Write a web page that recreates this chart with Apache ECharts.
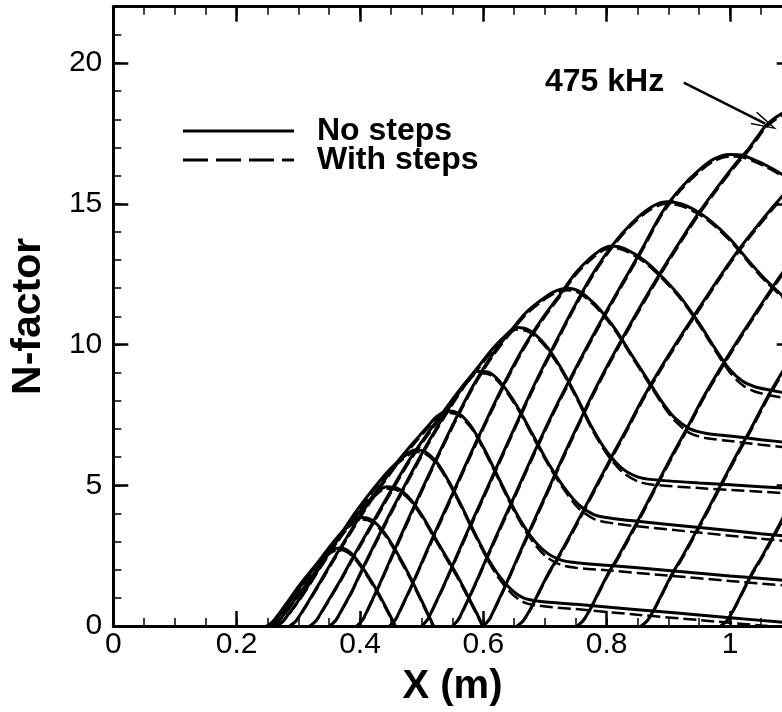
<!DOCTYPE html>
<html>
<head>
<meta charset="utf-8">
<script src="https://cdn.jsdelivr.net/npm/echarts@6/dist/echarts.min.js"></script>
<style>
  html, body { margin: 0; padding: 0; overflow: hidden; background: #fff; }
  #chart { width: 800px; height: 712px; }
</style>
</head>
<body>
<div id="chart"></div>
<script>
// N-factor growth curves, one per frequency. x in metres, N dimensionless.
// "noSteps" = smooth surface, "withSteps" = surface with steps.
const c01_x = [0.249, 0.259, 0.269, 0.284, 0.3, 0.32, 0.34, 0.355, 0.368, 0.385, 0.405, 0.425, 0.44, 0.454, 0.47];
const c01_noSteps = [0, 0.17, 0.45, 0.9, 1.4, 1.95, 2.45, 2.7, 2.77, 2.6, 2.05, 1.35, 0.75, 0.15, -0.6];
const c01_withSteps = [0, 0.15, 0.42, 0.86, 1.35, 1.89, 2.38, 2.63, 2.7, 2.53, 1.99, 1.29, 0.7, 0.1, -0.65];

const c02_x = [0.252, 0.262, 0.272, 0.287, 0.305, 0.325, 0.345, 0.365, 0.385, 0.403, 0.42, 0.44, 0.46, 0.48, 0.5, 0.514, 0.53];
const c02_noSteps = [0, 0.17, 0.45, 0.9, 1.45, 2.05, 2.65, 3.2, 3.65, 3.85, 3.75, 3.3, 2.6, 1.8, 0.9, 0.25, -0.5];
const c02_withSteps = [0, 0.15, 0.42, 0.86, 1.4, 1.99, 2.58, 3.13, 3.58, 3.78, 3.68, 3.24, 2.54, 1.74, 0.85, 0.2, -0.55];

const c03_x = [0.258, 0.268, 0.278, 0.293, 0.31, 0.33, 0.355, 0.38, 0.405, 0.425, 0.443, 0.46, 0.48, 0.5, 0.52, 0.54, 0.56, 0.58, 0.595, 0.61];
const c03_noSteps = [0, 0.17, 0.45, 0.9, 1.4, 2.0, 2.8, 3.55, 4.2, 4.7, 4.95, 4.9, 4.55, 3.95, 3.2, 2.45, 1.7, 0.85, 0.2, -0.5];
const c03_withSteps = [0, 0.15, 0.42, 0.86, 1.35, 1.94, 2.73, 3.48, 4.13, 4.63, 4.88, 4.83, 4.49, 3.89, 3.14, 2.39, 1.64, 0.8, 0.15, -0.55];

const c04_x = [0.265, 0.275, 0.285, 0.3, 0.315, 0.335, 0.36, 0.385, 0.41, 0.43, 0.45, 0.47, 0.489, 0.505, 0.525, 0.545, 0.565, 0.585, 0.605, 0.625, 0.645, 0.665, 0.69, 0.75, 0.85, 0.95, 1.05, 1.1];
const c04_noSteps = [0, 0.17, 0.45, 0.9, 1.4, 2.1, 2.95, 3.8, 4.55, 5.1, 5.6, 6.0, 6.25, 6.2, 5.8, 5.1, 4.25, 3.35, 2.5, 1.8, 1.3, 1.0, 0.88, 0.77, 0.58, 0.39, 0.2, 0.11];
const c04_withSteps = [0, 0.15, 0.42, 0.86, 1.35, 2.04, 2.88, 3.73, 4.48, 5.03, 5.53, 5.93, 6.18, 6.13, 5.74, 5.04, 4.19, 3.29, 2.43, 1.7, 1.17, 0.85, 0.72, 0.6, 0.4, 0.21, 0.02, -0.07];

const c05_x = [0.286, 0.296, 0.306, 0.32, 0.335, 0.355, 0.38, 0.41, 0.44, 0.465, 0.49, 0.51, 0.525, 0.541, 0.56, 0.58, 0.6, 0.625, 0.65, 0.675, 0.7, 0.725, 0.75, 0.8, 0.9, 1.0, 1.1];
const c05_noSteps = [0, 0.18, 0.5, 1.0, 1.55, 2.3, 3.2, 4.25, 5.2, 5.95, 6.6, 7.1, 7.45, 7.65, 7.55, 7.1, 6.35, 5.25, 4.15, 3.25, 2.65, 2.35, 2.25, 2.16, 1.97, 1.78, 1.6];
const c05_withSteps = [0, 0.16, 0.47, 0.96, 1.5, 2.24, 3.13, 4.18, 5.13, 5.88, 6.53, 7.03, 7.38, 7.58, 7.48, 7.04, 6.29, 5.19, 4.08, 3.15, 2.5, 2.18, 2.07, 1.98, 1.79, 1.6, 1.42];

const c06_x = [0.319, 0.329, 0.339, 0.354, 0.37, 0.39, 0.42, 0.45, 0.48, 0.51, 0.535, 0.555, 0.575, 0.591, 0.61, 0.63, 0.655, 0.68, 0.705, 0.73, 0.755, 0.78, 0.81, 0.85, 0.95, 1.05, 1.1];
const c06_noSteps = [0, 0.2, 0.55, 1.1, 1.7, 2.5, 3.65, 4.8, 5.9, 6.85, 7.6, 8.2, 8.75, 9.05, 9.0, 8.6, 7.8, 6.8, 5.8, 4.95, 4.3, 3.95, 3.82, 3.72, 3.5, 3.28, 3.18];
const c06_withSteps = [0, 0.18, 0.52, 1.06, 1.65, 2.44, 3.58, 4.73, 5.83, 6.78, 7.53, 8.13, 8.68, 8.98, 8.93, 8.54, 7.74, 6.74, 5.74, 4.87, 4.17, 3.8, 3.65, 3.54, 3.32, 3.1, 3.0];

const c07_x = [0.351, 0.361, 0.371, 0.386, 0.4, 0.42, 0.45, 0.48, 0.51, 0.54, 0.57, 0.595, 0.615, 0.635, 0.654, 0.675, 0.7, 0.725, 0.75, 0.775, 0.8, 0.825, 0.85, 0.875, 0.95, 1.05, 1.1];
const c07_noSteps = [0, 0.22, 0.6, 1.2, 1.85, 2.75, 4.05, 5.3, 6.5, 7.6, 8.6, 9.3, 9.85, 10.3, 10.6, 10.5, 10.0, 9.2, 8.2, 7.1, 6.2, 5.6, 5.3, 5.2, 5.08, 4.95, 4.88];
const c07_withSteps = [0, 0.2, 0.57, 1.16, 1.8, 2.69, 3.98, 5.23, 6.43, 7.53, 8.53, 9.23, 9.78, 10.23, 10.53, 10.43, 9.94, 9.14, 8.14, 7.04, 6.12, 5.48, 5.14, 5.02, 4.9, 4.77, 4.7];

const c08_x = [0.395, 0.405, 0.415, 0.43, 0.445, 0.465, 0.495, 0.525, 0.555, 0.585, 0.615, 0.645, 0.67, 0.695, 0.715, 0.735, 0.755, 0.78, 0.8, 0.817, 0.84, 0.865, 0.89, 0.91, 0.935, 0.96, 1.0, 1.05, 1.1];
const c08_noSteps = [0, 0.25, 0.7, 1.4, 2.15, 3.15, 4.6, 6.0, 7.35, 8.6, 9.65, 10.5, 11.15, 11.6, 11.88, 12.0, 11.9, 11.45, 10.95, 10.45, 9.65, 8.8, 7.95, 7.4, 7.0, 6.85, 6.75, 6.62, 6.5];
const c08_withSteps = [0, 0.23, 0.67, 1.36, 2.1, 3.08, 4.53, 5.93, 7.28, 8.53, 9.58, 10.43, 11.08, 11.53, 11.81, 11.93, 11.83, 11.39, 10.89, 10.39, 9.59, 8.74, 7.88, 7.3, 6.85, 6.68, 6.57, 6.44, 6.32];

const c09_x = [0.448, 0.458, 0.468, 0.483, 0.498, 0.518, 0.548, 0.578, 0.608, 0.638, 0.668, 0.698, 0.725, 0.75, 0.775, 0.795, 0.81, 0.83, 0.86, 0.89, 0.919, 0.95, 0.979, 1.0, 1.02, 1.04, 1.06, 1.084, 1.1];
const c09_noSteps = [0, 0.25, 0.7, 1.4, 2.15, 3.15, 4.6, 6.05, 7.45, 8.8, 10.0, 11.0, 11.8, 12.55, 13.1, 13.42, 13.5, 13.4, 13.0, 12.4, 11.7, 10.75, 9.75, 9.1, 8.7, 8.5, 8.4, 8.3, 8.25];
const c09_withSteps = [0, 0.23, 0.67, 1.36, 2.1, 3.08, 4.53, 5.98, 7.38, 8.73, 9.93, 10.93, 11.73, 12.48, 13.03, 13.35, 13.43, 13.33, 12.94, 12.34, 11.64, 10.69, 9.68, 9.0, 8.56, 8.33, 8.22, 8.12, 8.07];

const c10_x = [0.5, 0.51, 0.52, 0.535, 0.55, 0.57, 0.6, 0.63, 0.66, 0.69, 0.72, 0.75, 0.78, 0.81, 0.84, 0.87, 0.897, 0.92, 0.945, 0.968, 1.0, 1.033, 1.06, 1.084, 1.1];
const c10_noSteps = [0, 0.25, 0.7, 1.4, 2.15, 3.15, 4.6, 6.05, 7.5, 8.9, 10.2, 11.45, 12.6, 13.55, 14.3, 14.85, 15.07, 15.0, 14.75, 14.4, 13.75, 12.9, 12.25, 11.75, 11.35];
const c10_withSteps = [0, 0.23, 0.67, 1.36, 2.1, 3.08, 4.53, 5.98, 7.43, 8.83, 10.13, 11.38, 12.53, 13.48, 14.23, 14.78, 15.0, 14.93, 14.68, 14.34, 13.69, 12.84, 12.19, 11.69, 11.29];

const c11_x = [0.55, 0.56, 0.57, 0.585, 0.6, 0.62, 0.65, 0.68, 0.71, 0.74, 0.77, 0.8, 0.83, 0.86, 0.89, 0.92, 0.95, 0.975, 1.0, 1.02, 1.04, 1.06, 1.084, 1.1];
const c11_noSteps = [0, 0.25, 0.7, 1.4, 2.15, 3.15, 4.6, 6.05, 7.45, 8.75, 10.0, 11.2, 12.35, 13.5, 14.7, 15.55, 16.2, 16.6, 16.75, 16.72, 16.55, 16.35, 16.05, 15.8];
const c11_withSteps = [0, 0.23, 0.67, 1.36, 2.1, 3.08, 4.53, 5.98, 7.38, 8.68, 9.93, 11.13, 12.28, 13.43, 14.63, 15.48, 16.13, 16.53, 16.68, 16.65, 16.49, 16.29, 15.99, 15.74];

// 475 kHz
const c12_x = [0.6, 0.61, 0.62, 0.635, 0.65, 0.67, 0.7, 0.73, 0.76, 0.773, 0.8, 0.83, 0.86, 0.89, 0.92, 0.95, 0.98, 1.01, 1.03, 1.045, 1.057, 1.07, 1.084, 1.1];
const c12_noSteps = [0, 0.25, 0.7, 1.4, 2.15, 3.15, 4.6, 6.05, 7.45, 8.05, 9.2, 10.4, 11.55, 12.65, 13.7, 14.7, 15.6, 16.45, 16.95, 17.4, 17.75, 18.0, 18.2, 18.35];
const c12_withSteps = [0, 0.23, 0.67, 1.36, 2.1, 3.08, 4.53, 5.98, 7.38, 7.98, 9.13, 10.33, 11.48, 12.58, 13.63, 14.63, 15.53, 16.38, 16.88, 17.33, 17.68, 17.93, 18.13, 18.28];

const c13_x = [0.655, 0.665, 0.675, 0.69, 0.705, 0.72, 0.75, 0.78, 0.81, 0.835, 0.859, 0.89, 0.92, 0.95, 0.98, 1.01, 1.04, 1.07, 1.1];
const c13_noSteps = [0, 0.2, 0.55, 1.2, 1.85, 2.4, 3.6, 4.85, 6.1, 7.1, 8.1, 9.25, 10.3, 11.3, 12.3, 13.25, 14.1, 14.9, 15.65];
const c13_withSteps = [0, 0.18, 0.52, 1.16, 1.8, 2.34, 3.53, 4.78, 6.03, 7.03, 8.03, 9.18, 10.23, 11.23, 12.23, 13.18, 14.03, 14.83, 15.58];

const c14_x = [0.752, 0.762, 0.772, 0.787, 0.802, 0.817, 0.847, 0.877, 0.907, 0.932, 0.956, 0.987, 1.017, 1.047, 1.077, 1.1];
const c14_noSteps = [0, 0.2, 0.55, 1.2, 1.85, 2.4, 3.6, 4.85, 6.1, 7.1, 8.1, 9.25, 10.3, 11.3, 12.3, 13.0];
const c14_withSteps = [0, 0.18, 0.52, 1.16, 1.8, 2.34, 3.53, 4.78, 6.03, 7.03, 8.03, 9.18, 10.23, 11.23, 12.23, 12.93];

const c15_x = [0.856, 0.866, 0.876, 0.891, 0.906, 0.921, 0.951, 0.981, 1.011, 1.036, 1.06, 1.091, 1.1];
const c15_noSteps = [0, 0.2, 0.55, 1.2, 1.85, 2.4, 3.6, 4.85, 6.1, 7.1, 8.1, 9.25, 9.55];
const c15_withSteps = [0, 0.18, 0.52, 1.16, 1.8, 2.34, 3.53, 4.78, 6.03, 7.03, 8.03, 9.18, 9.48];

const c16_x = [0.985, 0.995, 1.005, 1.02, 1.035, 1.05, 1.08, 1.1];
const c16_noSteps = [0, 0.2, 0.55, 1.2, 1.85, 2.4, 3.6, 4.45];
const c16_withSteps = [0, 0.18, 0.52, 1.16, 1.8, 2.34, 3.53, 4.38];

// Axis ranges and tick spacing
const xRange = [0, 1.1];
const yRange = [0, 22];
const xMajor = 0.2, xMinor = 0.05;
const yMajor = 5, yMinor = 1;

// Legend entries and the frequency annotation
const legendNames = ['No steps', 'With steps'];
const noteText = '475 kHz';
const arrowTail = [0.925, 19.3];
const arrowHead = [1.057, 17.85];

const curves = [
  [c01_x, c01_noSteps, c01_withSteps], [c02_x, c02_noSteps, c02_withSteps],
  [c03_x, c03_noSteps, c03_withSteps], [c04_x, c04_noSteps, c04_withSteps],
  [c05_x, c05_noSteps, c05_withSteps], [c06_x, c06_noSteps, c06_withSteps],
  [c07_x, c07_noSteps, c07_withSteps], [c08_x, c08_noSteps, c08_withSteps],
  [c09_x, c09_noSteps, c09_withSteps], [c10_x, c10_noSteps, c10_withSteps],
  [c11_x, c11_noSteps, c11_withSteps], [c12_x, c12_noSteps, c12_withSteps],
  [c13_x, c13_noSteps, c13_withSteps], [c14_x, c14_noSteps, c14_withSteps],
  [c15_x, c15_noSteps, c15_withSteps], [c16_x, c16_noSteps, c16_withSteps]
];

const FONT = '"Liberation Sans", Arial, Helvetica, sans-serif';
const DASH = [13, 5];
const fmtX = v => (v > 1.05 ? '' : String(+v.toFixed(2)));
const fmtY = v => (v > 21 ? '' : String(v));

function majorAxis(pos, range, step, withLabels, fmt, name, nameGap, nameSize) {
  return {
    type: 'value', position: pos, min: range[0], max: range[1], interval: step,
    axisLine: { show: true, onZero: false, lineStyle: { color: '#000', width: 3 } },
    axisTick: { show: true, inside: true, length: 15, lineStyle: { color: '#000', width: 2.5 } },
    axisLabel: withLabels ? { show: true, color: '#000', fontSize: 30, fontFamily: FONT, margin: pos === 'bottom' ? 4 : 11, formatter: fmt } : { show: false },
    splitLine: { show: false },
    name: name || '', nameLocation: 'middle', nameGap: nameGap || 0,
    nameTextStyle: { color: '#000', fontSize: nameSize || 40, fontWeight: 'bold', fontFamily: FONT }
  };
}
function minorAxis(pos, range, step) {
  return {
    type: 'value', position: pos, min: range[0], max: range[1], interval: step,
    axisLine: { show: false, onZero: false },
    axisTick: { show: true, inside: true, length: 8, lineStyle: { color: '#000', width: 1.5 } },
    axisLabel: { show: false }, splitLine: { show: false }
  };
}

const series = [];
curves.forEach(([xs, a, b]) => {
  series.push({
    name: legendNames[0], type: 'line', xAxisIndex: 0, yAxisIndex: 0,
    data: xs.map((x, i) => [x, a[i]]), smooth: 0.3, showSymbol: false, symbol: 'none',
    lineStyle: { color: '#000', width: 3 }, z: 3, silent: true
  });
  series.push({
    name: legendNames[1], type: 'line', xAxisIndex: 0, yAxisIndex: 0,
    data: xs.map((x, i) => [x, b[i]]), smooth: 0.3, showSymbol: false, symbol: 'none',
    lineStyle: { color: '#000', width: 2.5, type: DASH }, z: 2, silent: true
  });
});
// arrow pointing at the 475 kHz curve
series.push({
  type: 'line', data: [], xAxisIndex: 0, yAxisIndex: 0, silent: true,
  markLine: {
    silent: true, animation: false,
    symbol: ['none', 'path://M0,0 L7,26 L5.6,26.6 L0,5 L-5.6,26.6 L-7,26 Z'], symbolSize: [14, 26],
    lineStyle: { color: '#000', width: 2.5, type: 'solid' },
    label: { show: false },
    data: [[{ coord: arrowTail }, { coord: arrowHead }]]
  }
});

// legend drawn as line samples with bold captions
const legendGraphic = [];
legendNames.forEach((nm, i) => {
  const y = 131 + i * 29;
  legendGraphic.push({
    type: 'line', shape: { x1: 183, y1: y, x2: 294, y2: y },
    style: { stroke: '#000', lineWidth: 3, lineDash: i === 0 ? null : [25, 8] }
  });
  legendGraphic.push({
    type: 'text', x: 317, y: y,
    style: { text: nm, fill: '#000', font: 'bold 32px ' + FONT, textVerticalAlign: 'middle', verticalAlign: 'middle' }
  });
});

const chart = echarts.init(document.getElementById('chart'), null, { renderer: 'canvas' });
chart.setOption({
  animation: false,
  backgroundColor: '#fff',
  grid: { left: 113.3, right: 8.3, top: 6.7, bottom: 86 },
  xAxis: [
    majorAxis('bottom', xRange, xMajor, true, fmtX, 'X (m)', 41, 40),
    minorAxis('bottom', xRange, xMinor),
    majorAxis('top', xRange, xMajor, false),
    minorAxis('top', xRange, xMinor)
  ],
  yAxis: [
    majorAxis('left', yRange, yMajor, true, fmtY, 'N-factor', 64, 41),
    minorAxis('left', yRange, yMinor),
    majorAxis('right', yRange, yMajor, false),
    minorAxis('right', yRange, yMinor)
  ],
  graphic: legendGraphic.concat([{
    type: 'text', x: 545, y: 82,
    style: { text: noteText, fill: '#000', font: 'bold 32px ' + FONT, textVerticalAlign: 'middle', verticalAlign: 'middle' }
  }]),
  series
});
</script>
</body>
</html>
